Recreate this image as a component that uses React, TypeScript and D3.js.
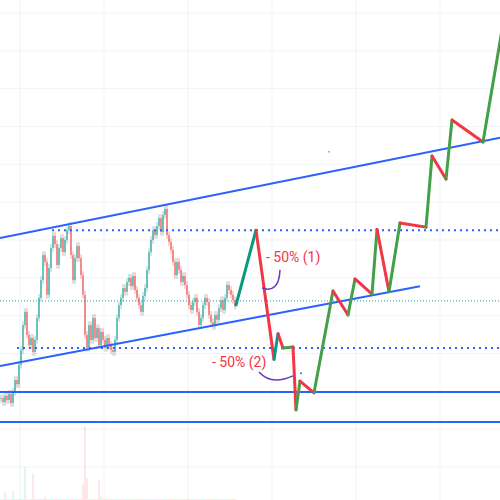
import React from "react";
import * as d3 from "d3";

// ---- data (price units, bar index) ----
const closes = [
  28.2, 27.2, 28.8, 27.7, 29.3, 26.9, 29.8, 33.0, 31.9, 37.0,
  40.9, 47.5, 51.0, 44.9, 42.2, 44.1, 40.4, 43.6, 49.4, 54.7,
  59.4, 66.0, 64.2, 55.5, 62.6, 67.9, 71.1, 68.9, 63.4, 67.9,
  70.5, 66.8, 70.0, 72.6, 73.7, 66.0, 59.4, 65.2, 68.4, 65.2,
  60.7, 55.5, 44.9, 41.5, 47.5, 43.6, 49.4, 44.1, 46.7, 42.2,
  45.7, 43.6, 41.5, 44.1, 42.2, 40.9, 40.4, 43.6, 49.4, 52.8,
  54.7, 57.3, 56.3, 58.9, 60.0, 57.8, 60.5, 56.8, 54.7, 52.8,
  51.0, 55.2, 57.3, 62.1, 66.8, 70.0, 72.6, 71.3, 73.7, 75.8,
  72.1, 76.6, 78.2, 71.3, 69.5, 67.4, 64.2, 60.7, 64.2, 62.1,
  58.9, 60.5, 58.1, 55.5, 52.8, 51.5, 53.6, 54.7, 51.0, 47.5,
  49.4, 52.8, 54.7, 53.6, 50.2, 48.3, 47.3, 50.2, 48.9, 52.0,
  54.1, 51.5, 54.7, 58.1, 56.8, 55.5, 54.1, 52.6,
];
const firstOpen = 28.0;
const volumes = [
  1, 1, 8, 1, 1, 1, 9, 1, 1, 1,
  1, 1, 33, 1, 1, 1, 27, 1, 1, 1,
  1, 1, 3, 1, 1, 1, 1, 1, 1, 1,
  1, 1, 1, 1, 1, 1, 1, 1, 1, 1,
  1, 16, 74, 22, 1, 1, 1, 1, 1, 20,
  3, 1, 1, 1, 1, 1, 1, 1, 1, 1,
  1, 1, 1, 1, 1, 1, 1, 1, 1, 1,
  1, 1, 1, 1, 1, 1, 1, 1, 1, 1,
  1, 1, 1, 1, 1, 1, 1, 1, 1, 1,
  1, 1, 1, 1, 1, 1, 1, 1, 1, 1,
  1, 1, 1, 1, 1, 1, 1, 1, 1, 1,
  1, 1, 1, 1, 1, 1, 1, 1,
];

// projected zigzag path: [bar index, price]
const projIdx = [117.5, 127.5, 136.5, 138.5, 141, 146, 147.5, 149.5, 156.5, 166, 173.5, 177, 185.5, 188, 194, 199.5, 212.5, 215.5, 222.5, 225.5, 241, 250.5];
const projPrice = [52.8, 72.6, 38.5, 45.2, 41.45, 41.7, 25.1, 32.7, 29.6, 56.5, 50.2, 59.7, 55.7, 72.8, 56.3, 74.5, 73.4, 92.2, 86.1, 101.7, 95.9, 125.5];
const projTealSegments = [0, 2];

// horizontal levels
const solidLevels = [29.8, 21.9];
const dottedLevels = [72.6, 41.45];
const dottedStart = [25.5, 8];
const midLevel = 53.9;

// trend lines: [startIdx, startPrice, endIdx, endPrice]
const upperTrend = [-0.5, 70.5, 249.5, 97.0];
const lowerTrend = [-0.5, 36.7, 209.5, 57.8];

// grid ticks
const timeTicks = [9.5, 51.5, 93.5, 135.5, 177.5, 219.5];
const priceTicks = [10, 20, 30, 40, 50, 60, 70, 80, 90, 100, 110, 120, 130];

const labels = ["- 50% (1)", "- 50% (2)"];
const labelIdx = [132.5, 105.5];
const labelPrice = [64.2, 36.4];

export default function App() {
  const W = 500, H = 500;
  const x = d3.scaleLinear().domain([-0.5, 249.5]).range([0, W]);
  const y = d3.scaleLinear().domain([10, 130]).range([467, 13]);
  const vy = d3.scaleLinear().domain([0, 100]).range([0, 100]);

  const up = "#26a69a", down = "#ef5350";
  const blue = "#2962ff";

  const candles = closes.map((c, i) => {
    const o = i === 0 ? firstOpen : closes[i - 1];
    return { i, o, c, h: Math.max(o, c) + 1.0, l: Math.min(o, c) - 1.0 };
  });

  const line = d3.line<[number, number]>().x(d => x(d[0])).y(d => y(d[1]));

  const projSegs = projIdx.slice(1).map((_, k) => {
    const a: [number, number] = [projIdx[k], projPrice[k]];
    const b: [number, number] = [projIdx[k + 1], projPrice[k + 1]];
    const isUp = b[1] > a[1];
    const color = !isUp ? "#f23645" : projTealSegments.includes(k) ? "#089981" : "#43a047";
    return { a, b, color };
  });

  const arc1 = d3.path();
  arc1.moveTo(x(130.5), y(57.3));
  arc1.quadraticCurveTo(x(139), y(55.8), x(139.5), y(62.1));
  const arc2 = d3.path();
  arc2.moveTo(x(129), y(35.1));
  arc2.quadraticCurveTo(x(135), y(31.5), x(146), y(34.1));

  return (
    <svg width={W} height={H} style={{ position: "absolute", left: 0, top: 0, background: "#fff" }}>
      <rect width={W} height={H} fill="#ffffff" />
      <g stroke="#f0f3fa" strokeWidth={1}>
        {timeTicks.map(t => <line key={"t" + t} x1={x(t)} x2={x(t)} y1={0} y2={H} />)}
        {priceTicks.map(p => <line key={"p" + p} x1={0} x2={W} y1={y(p)} y2={y(p)} />)}
      </g>
      {/* volume */}
      <g opacity={0.25}>
        {volumes.map((v, i) => (
          <rect key={i} x={x(i) - 0.5} width={1} y={H - vy(v)} height={vy(v)}
            fill={candles[i].c >= candles[i].o ? up : down} />
        ))}
      </g>
      {/* candles */}
      <g opacity={0.85}>
        {candles.map(d => {
          const col = d.c >= d.o ? up : down;
          const top = y(Math.max(d.o, d.c)), bot = y(Math.min(d.o, d.c));
          return (
            <g key={d.i}>
              <line x1={x(d.i)} x2={x(d.i)} y1={y(d.h)} y2={y(d.l)} stroke={col} strokeWidth={0.6} />
              <rect x={x(d.i) - 0.7} width={1.4} y={top} height={Math.max(0.8, bot - top)} fill={col} />
            </g>
          );
        })}
      </g>
      {/* mid dotted teal line */}
      <line x1={0} x2={W} y1={y(midLevel)} y2={y(midLevel)} stroke="#26a69a" strokeWidth={1} strokeDasharray="1 2" />
      {/* trend lines */}
      <line x1={x(upperTrend[0])} y1={y(upperTrend[1])} x2={x(upperTrend[2])} y2={y(upperTrend[3])} stroke={blue} strokeWidth={2} />
      <line x1={x(lowerTrend[0])} y1={y(lowerTrend[1])} x2={x(lowerTrend[2])} y2={y(lowerTrend[3])} stroke={blue} strokeWidth={2} />
      {/* levels */}
      {solidLevels.map(p => <line key={"s" + p} x1={0} x2={W} y1={y(p)} y2={y(p)} stroke={blue} strokeWidth={2} />)}
      {dottedLevels.map((p, k) => (
        <line key={"d" + p} x1={x(dottedStart[k])} x2={W} y1={y(p)} y2={y(p)} stroke={blue} strokeWidth={2} strokeDasharray="2 4" />
      ))}
      {/* projection */}
      {projSegs.map((s, k) => (
        <path key={k} d={line([s.a, s.b]) || ""} stroke={s.color} strokeWidth={3} fill="none" strokeLinecap="round" />
      ))}
      {/* annotations */}
      <path d={arc1.toString()} stroke="#673ab7" strokeWidth={1.5} fill="none" />
      <path d={arc2.toString()} stroke="#673ab7" strokeWidth={1.5} fill="none" />
      <circle cx={x(150)} cy={y(34.8)} r={1} fill="#2962ff" />
      <circle cx={x(164)} cy={y(93.3)} r={0.8} fill="#26a69a" />
      {labels.map((t, k) => (
        <text key={t} x={x(labelIdx[k])} y={y(labelPrice[k])} fill="#f23645" fontSize={14}
          fontFamily="Roboto, 'Open Sans', sans-serif">{t}</text>
      ))}
    </svg>
  );
}
